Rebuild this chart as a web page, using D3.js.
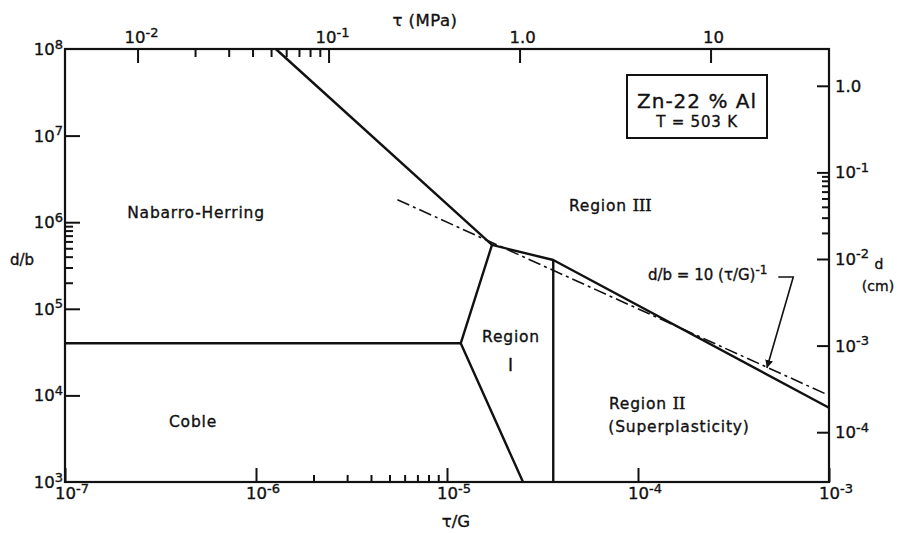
<!DOCTYPE html>
<html>
<head>
<meta charset="utf-8">
<script src="https://cdn.jsdelivr.net/npm/d3@7"></script>
<style>
  body { margin: 0; background: #fff; }
  text { font-family: "DejaVu Sans", sans-serif; fill: #111; stroke: #111; stroke-width: 0.35px; }
</style>
</head>
<body>
<div id="d3-container"></div>
<script>
// Deformation mechanism map, Zn-22% Al at 503 K
// boundary lines as [tau/G, d/b] points
const nabarroHerringEdge = [[1.27e-6, 1e8], [1.72e-5, 5.46e5]];
const regionThreeEdge = [[1.72e-5, 5.46e5], [3.6e-5, 3.66e5], [1e-3, 7.2e3]];
const cobleEdge = [[1e-7, 4e4], [1.18e-5, 4e4]];
const regionOneEdge = [[1.72e-5, 5.46e5], [1.18e-5, 4e4], [2.5e-5, 1e3]];
const regionTwoEdge = [[3.6e-5, 3.66e5], [3.6e-5, 1e3]];
const fitLine = [[5.5e-6, 1.82e6], [1e-3, 1e4]];   // d/b = 10 (tau/G)^-1
const arrowPath = [[6.5e-4, 2.33e5], [4.73e-4, 2.07e4]];

// ticks and labels
const xTicks = [1e-7, 1e-6, 1e-5, 1e-4, 1e-3];
const xTickLabels = [["10", "-7"], ["10", "-6"], ["10", "-5"], ["10", "-4"], ["10", "-3"]];
const xMinor = [2e-6, 3e-6, 4e-6, 5e-6, 6e-6, 7e-6, 8e-6, 9e-6];
const yTicks = [1e3, 1e4, 1e5, 1e6, 1e7, 1e8];
const yTickLabels = [["10", "3"], ["10", "4"], ["10", "5"], ["10", "6"], ["10", "7"], ["10", "8"]];
const yMinor = [2e5, 3e5, 4e5, 5e5, 6e5, 7e5, 8e5, 9e5];
const tauTicks = [1e-2, 1e-1, 1, 10];
const tauTickLabels = [["10", "-2"], ["10", "-1"], ["1.0", ""], ["10", ""]];
const tauMinor = [2e-2, 3e-2, 4e-2, 5e-2, 6e-2, 7e-2, 8e-2, 9e-2];
const dTicks = [1, 1e-1, 1e-2, 1e-3, 1e-4];
const dTickLabels = [["1.0", ""], ["10", "-1"], ["10", "-2"], ["10", "-3"], ["10", "-4"]];
const dMinor = [2e-2, 3e-2, 4e-2, 5e-2, 6e-2, 7e-2, 8e-2, 9e-2];

const G_MPA = 41700;      // shear modulus
const B_CM = 2.66e-8;     // burgers vector

const width = 898;
const height = 533;
const margin = { top: 49, bottom: 51, left: 65, right: 69 };

const svg = d3.select('#d3-container')
  .append('svg')
  .attr('width', width)
  .attr('height', height)
  .attr("viewBox", [0, 0, width, height]);

svg.append("rect").attr("width", width).attr("height", height).attr("fill", "#fff");

const x = d3.scaleLog()
  .domain([1e-7, 1e-3])
  .range([margin.left, width - margin.right]);

const y = d3.scaleLog()
  .domain([1e3, 1e8])
  .range([height - margin.bottom, margin.top]);

// secondary scales
const xTau = d3.scaleLog()
  .domain(x.domain().map(v => v * G_MPA))
  .range(x.range());

const yD = d3.scaleLog()
  .domain(y.domain().map(v => v * B_CM))
  .range(y.range());

// ticks, pointing inward
function ticksOnly(g, axis) {
  g.call(axis.tickFormat(() => "").tickSizeOuter(0));
  g.select(".domain").remove();
  g.selectAll(".tick line").attr("stroke", "#111").attr("stroke-width", 2);
}

const bottom = height - margin.bottom;
const right = width - margin.right;

svg.append("g").attr("transform", `translate(0,${bottom})`)
  .call(g => ticksOnly(g, d3.axisBottom(x).tickValues(xTicks).tickSizeInner(-14)));
svg.append("g").attr("transform", `translate(0,${bottom})`)
  .call(g => ticksOnly(g, d3.axisBottom(x).tickValues(xMinor).tickSizeInner(-7)));
svg.append("g").attr("transform", `translate(${margin.left},0)`)
  .call(g => ticksOnly(g, d3.axisLeft(y).tickValues(yTicks.slice(1, 5)).tickSizeInner(-15)));
svg.append("g").attr("transform", `translate(${margin.left},0)`)
  .call(g => ticksOnly(g, d3.axisLeft(y).tickValues(yMinor).tickSizeInner(-8)));
svg.append("g").attr("transform", `translate(0,${margin.top})`)
  .call(g => ticksOnly(g, d3.axisTop(xTau).tickValues(tauTicks).tickSizeInner(-14)));
svg.append("g").attr("transform", `translate(0,${margin.top})`)
  .call(g => ticksOnly(g, d3.axisTop(xTau).tickValues(tauMinor).tickSizeInner(-8)));
svg.append("g").attr("transform", `translate(${right},0)`)
  .call(g => ticksOnly(g, d3.axisRight(yD).tickValues(dTicks).tickSizeInner(-12)));
svg.append("g").attr("transform", `translate(${right},0)`)
  .call(g => ticksOnly(g, d3.axisRight(yD).tickValues(dMinor).tickSizeInner(-7)));

// frame
svg.append("rect")
  .attr("x", margin.left).attr("y", margin.top)
  .attr("width", right - margin.left).attr("height", bottom - margin.top)
  .attr("fill", "none").attr("stroke", "#111").attr("stroke-width", 2.2);

// power-of-ten labels
function powLabel(sel, parts) {
  sel.append("tspan").text(parts[0]);
  if (parts[1]) {
    sel.append("tspan").attr("dy", "-0.5em").attr("font-size", "13px").text(parts[1]);
  }
}

const labels = svg.append("g").attr("font-size", "16.5px");

xTicks.forEach((v, i) => {
  labels.append("text").attr("x", x(v) - 10).attr("y", 499)
    .call(powLabel, xTickLabels[i]);
});
yTicks.forEach((v, i) => {
  labels.append("text").attr("x", margin.left - 2).attr("y", y(v) + 6)
    .attr("text-anchor", "end")
    .call(powLabel, yTickLabels[i]);
});
tauTicks.forEach((v, i) => {
  const t = labels.append("text").attr("y", 43);
  if (tauTickLabels[i][1]) t.attr("x", xTau(v) - 13);
  else t.attr("x", xTau(v) + 3).attr("text-anchor", "middle");
  t.call(powLabel, tauTickLabels[i]);
});
dTicks.forEach((v, i) => {
  labels.append("text").attr("x", right + 6).attr("y", yD(v) + 6)
    .call(powLabel, dTickLabels[i]);
});

// axis titles
labels.append("text").attr("x", 425).attr("y", 26).attr("text-anchor", "middle").attr("letter-spacing", "0.5px").text("τ (MPa)");
labels.append("text").attr("x", 456).attr("y", 527).attr("text-anchor", "middle").text("τ/G");
labels.append("text").attr("x", 22).attr("y", 265).attr("text-anchor", "middle").attr("font-size", "15px").text("d/b");
labels.append("text").attr("x", 879).attr("y", 269).attr("text-anchor", "middle").attr("font-size", "14px").text("d");
labels.append("text").attr("x", 878).attr("y", 291).attr("text-anchor", "middle").attr("font-size", "14px").text("(cm)");

// boundary lines
const line = d3.line().x(d => x(d[0])).y(d => y(d[1]));

const solid = [nabarroHerringEdge, regionThreeEdge, cobleEdge, regionOneEdge, regionTwoEdge];
svg.append("g")
  .selectAll("path")
  .data(solid)
  .join("path")
    .attr("d", line)
    .attr("fill", "none")
    .attr("stroke", "#111")
    .attr("stroke-width", 2.4)
    .attr("stroke-linejoin", "round");

svg.append("path")
  .datum(fitLine)
  .attr("d", line)
  .attr("fill", "none")
  .attr("stroke", "#111")
  .attr("stroke-width", 1.6)
  .attr("stroke-dasharray", "13,4,3,4");

// region names
const regions = svg.append("g").attr("font-size", "15.5px").attr("letter-spacing", "0.8px");
regions.append("text").attr("x", 196).attr("y", 218).attr("text-anchor", "middle").text("Nabarro-Herring");
regions.append("text").attr("x", 193).attr("y", 427).attr("text-anchor", "middle").text("Coble");
regions.append("text").attr("x", 511).attr("y", 342).attr("text-anchor", "middle").text("Region");
regions.append("text").attr("x", 511).attr("y", 371).attr("text-anchor", "middle")
  .attr("font-family", "DejaVu Serif").attr("font-size", "17px").text("I");
regions.append("text").attr("x", 569).attr("y", 211)
  .call(t => {
    t.append("tspan").text("Region ");
    t.append("tspan").attr("font-family", "DejaVu Serif").attr("font-size", "17px").attr("letter-spacing", "-0.5px").text("III");
  });
regions.append("text").attr("x", 609).attr("y", 409)
  .call(t => {
    t.append("tspan").text("Region ");
    t.append("tspan").attr("font-family", "DejaVu Serif").attr("font-size", "17px").attr("letter-spacing", "-0.5px").text("II");
  });
regions.append("text").attr("x", 679).attr("y", 432).attr("text-anchor", "middle").text("(Superplasticity)");

// material box
svg.append("rect")
  .attr("x", 627).attr("y", 75).attr("width", 140).attr("height", 63)
  .attr("fill", "#fff").attr("stroke", "#111").attr("stroke-width", 2);
svg.append("text").attr("x", 697).attr("y", 108).attr("text-anchor", "middle")
  .attr("font-size", "20px").attr("letter-spacing", "1px").text("Zn-22 % Al");
svg.append("text").attr("x", 697).attr("y", 127).attr("text-anchor", "middle")
  .attr("font-size", "15px").attr("letter-spacing", "0.8px").text("T = 503 K");

// fit annotation with arrow
svg.append("defs").append("marker")
  .attr("id", "head")
  .attr("viewBox", "0 0 10 10")
  .attr("refX", 10).attr("refY", 5)
  .attr("markerWidth", 5).attr("markerHeight", 7)
  .attr("orient", "auto")
  .append("path").attr("d", "M0,0 L10,5 L0,10 z").attr("fill", "#111");

const corner = [x(arrowPath[0][0]), y(arrowPath[0][1])];
svg.append("path")
  .attr("d", `M${corner[0] - 15},${corner[1]} L${corner[0]},${corner[1]} L${x(arrowPath[1][0])},${y(arrowPath[1][1])}`)
  .attr("fill", "none").attr("stroke", "#111").attr("stroke-width", 1.6)
  .attr("marker-end", "url(#head)");

svg.append("text").attr("x", 648).attr("y", 280).attr("font-size", "15px")
  .call(t => {
    t.append("tspan").text("d/b = 10 (τ/G)");
    t.append("tspan").attr("dy", "-0.5em").attr("font-size", "12px").text("-1");
  });

svg.node();
</script>
</body>
</html>
